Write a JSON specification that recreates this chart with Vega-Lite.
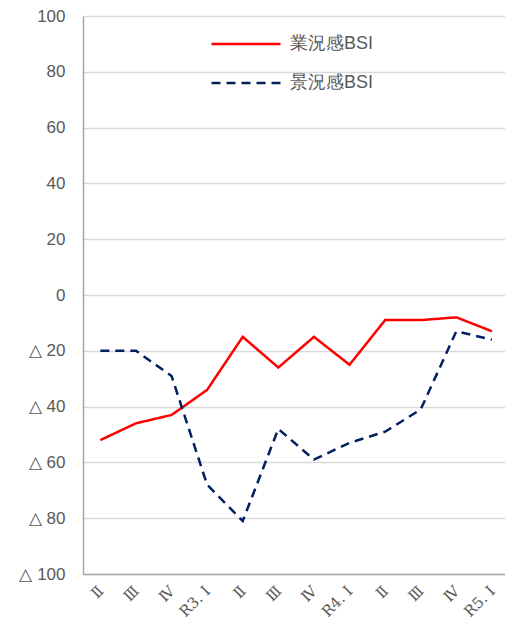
{
  "$schema": "https://vega.github.io/schema/vega-lite/v6.json",
  "autosize": "none",
  "width": 422,
  "height": 558,
  "padding": {"left": 83, "top": 16, "right": 0, "bottom": 51},
  "background": "white",
  "config": {"view": {"stroke": null}},
  "data": {"values": [
    {"period": "R2. Ⅱ", "series": "業況感BSI", "value": -52},
    {"period": "R2. Ⅲ", "series": "業況感BSI", "value": -46},
    {"period": "R2. Ⅳ", "series": "業況感BSI", "value": -43},
    {"period": "R3. Ⅰ", "series": "業況感BSI", "value": -34},
    {"period": "R3. Ⅱ", "series": "業況感BSI", "value": -15},
    {"period": "R3. Ⅲ", "series": "業況感BSI", "value": -26},
    {"period": "R3. Ⅳ", "series": "業況感BSI", "value": -15},
    {"period": "R4. Ⅰ", "series": "業況感BSI", "value": -25},
    {"period": "R4. Ⅱ", "series": "業況感BSI", "value": -9},
    {"period": "R4. Ⅲ", "series": "業況感BSI", "value": -9},
    {"period": "R4. Ⅳ", "series": "業況感BSI", "value": -8},
    {"period": "R5. Ⅰ", "series": "業況感BSI", "value": -13},
    {"period": "R2. Ⅱ", "series": "景況感BSI", "value": -20},
    {"period": "R2. Ⅲ", "series": "景況感BSI", "value": -20},
    {"period": "R2. Ⅳ", "series": "景況感BSI", "value": -29},
    {"period": "R3. Ⅰ", "series": "景況感BSI", "value": -68},
    {"period": "R3. Ⅱ", "series": "景況感BSI", "value": -81},
    {"period": "R3. Ⅲ", "series": "景況感BSI", "value": -48},
    {"period": "R3. Ⅳ", "series": "景況感BSI", "value": -59},
    {"period": "R4. Ⅰ", "series": "景況感BSI", "value": -53},
    {"period": "R4. Ⅱ", "series": "景況感BSI", "value": -49},
    {"period": "R4. Ⅲ", "series": "景況感BSI", "value": -41},
    {"period": "R4. Ⅳ", "series": "景況感BSI", "value": -13},
    {"period": "R5. Ⅰ", "series": "景況感BSI", "value": -16}
  ]},
  "mark": {"type": "line", "strokeWidth": 2.5, "strokeJoin": "miter"},
  "encoding": {
    "x": {
      "field": "period", "type": "ordinal", "sort": null,
      "scale": {"type": "point", "padding": 0.427, "align": 0.57, "range": [0, 422]},
      "axis": {
        "title": null, "grid": false, "ticks": false,
        "domainColor": "#a6a6a6", "domainWidth": 1.5,
        "labelAngle": -45, "labelAlign": "right", "labelBaseline": "middle",
        "labelPadding": 14,
        "labelFont": "DejaVu Serif", "labelFontSize": 15, "labelColor": "#595959",
        "labelExpr": "indexof(datum.label, 'Ⅰ') >= 0 ? datum.label : substring(datum.label, 4)"
      }
    },
    "y": {
      "field": "value", "type": "quantitative",
      "scale": {"domain": [-100, 100], "nice": false},
      "axis": {
        "title": null, "values": [-100, -80, -60, -40, -20, 0, 20, 40, 60, 80, 100],
        "ticks": false, "labelPadding": 18,
        "domainColor": "#a6a6a6", "domainWidth": 1.5,
        "gridColor": "#d9d9d9", "gridWidth": 1.5,
        "labelFont": "Liberation Sans", "labelFontSize": 17, "labelColor": "#595959",
        "labelExpr": "datum.value < 0 ? '△ ' + abs(datum.value) : datum.label"
      }
    },
    "color": {
      "field": "series", "type": "nominal", "sort": ["業況感BSI", "景況感BSI"],
      "scale": {"domain": ["業況感BSI", "景況感BSI"], "range": ["#ff0000", "#002060"]},
      "legend": {
        "title": null, "orient": "none", "legendX": 127, "legendY": 18,
        "symbolType": "stroke", "symbolSize": 4761, "symbolStrokeWidth": 2.5,
        "labelFont": "Liberation Sans", "labelFontSize": 18, "labelColor": "#595959",
        "labelOffset": 8, "clipHeight": 20, "rowPadding": 19
      }
    },
    "strokeDash": {
      "field": "series", "type": "nominal",
      "scale": {"domain": ["業況感BSI", "景況感BSI"], "range": [[1, 0], [9, 6]]},
      "legend": null
    }
  }
}
